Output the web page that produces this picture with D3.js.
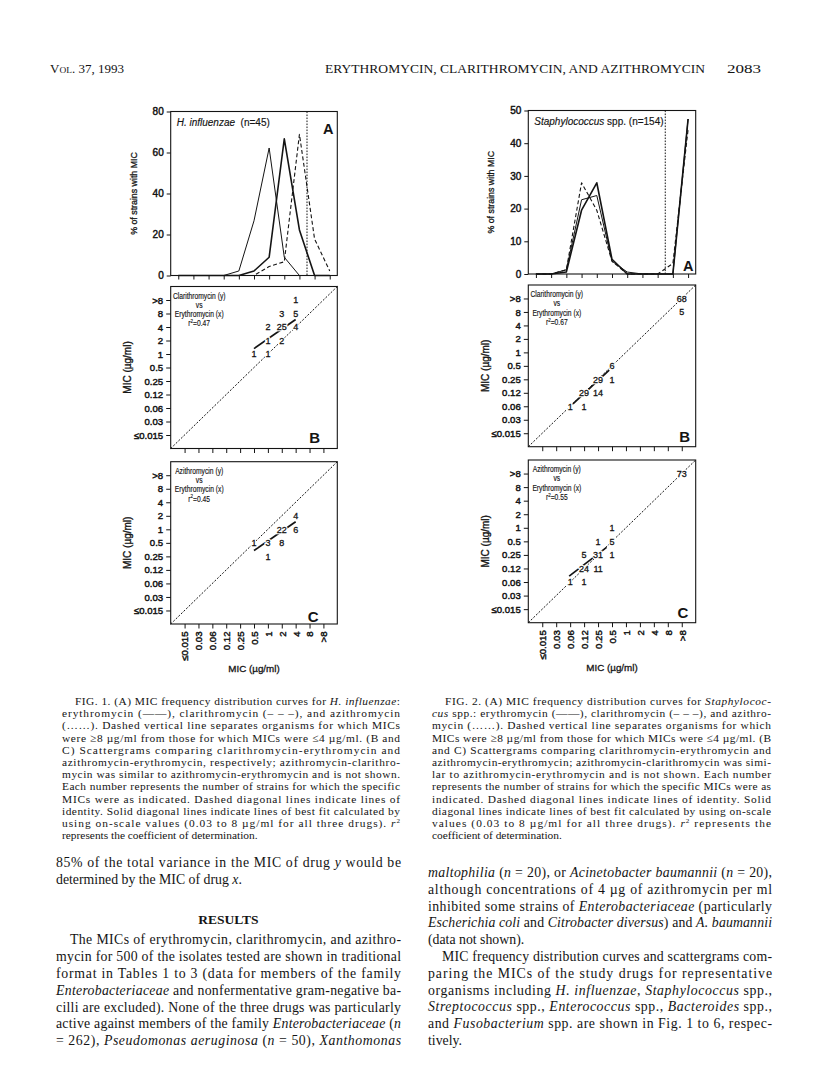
<!DOCTYPE html>
<html>
<head>
<meta charset="utf-8">
<script src="https://cdn.jsdelivr.net/npm/d3@7"></script>
<style>
  body { margin: 0; background: #fff; }
</style>
</head>
<body>
<div id="page"></div>
<script>
// MIC categories shared by every panel
var micLabels = ['≤0.015', '0.03', '0.06', '0.12', '0.25', '0.5', '1', '2', '4', '8', '>8'];

// Fig 1A, H. influenzae, % of strains at each MIC
var hinfTicks = [0, 20, 40, 60, 80];
var hinfEry = [0, 0, 0, 0, 0, 2.2, 8.9, 66.7, 22.2, 0, 0];
var hinfCla = [0, 0, 0, 0, 0, 0, 4.4, 6.7, 68.9, 17.8, 2.2];
var hinfAzi = [0, 0, 0, 0, 2.2, 26.7, 62.2, 8.9, 0, 0, 0];

// Fig 2A, Staphylococcus spp.
var staphTicks = [0, 10, 20, 30, 40, 50];
var staphEry = [0, 0, 0.6, 19.5, 27.9, 4.5, 0, 0, 0, 0, 47.4];
var staphCla = [0, 0, 1.3, 27.9, 19.5, 3.9, 0, 0, 0, 3.2, 44.2];
var staphAzi = [0, 0, 1.3, 22.7, 24.0, 3.9, 0.6, 0, 0, 0, 47.4];

// scattergrams: erythromycin MIC (x), other drug MIC (y), number of strains
var hinfClaX = ['4', '2', '4', '1', '2', '4', '1', '2', '0.5', '1'];
var hinfClaY = ['>8', '8', '8', '4', '4', '4', '2', '2', '1', '1'];
var hinfClaN = [1, 3, 5, 2, 25, 4, 1, 2, 1, 1];
var hinfClaFit = [[5, 6.4], [8, 8.56]];

var hinfAziX = ['4', '2', '4', '0.5', '1', '2', '1'];
var hinfAziY = ['2', '1', '1', '0.5', '0.5', '0.5', '0.25'];
var hinfAziN = [4, 22, 6, 1, 3, 8, 1];
var hinfAziFit = [[5, 4.43], [8, 6.56]];

var staphClaX = ['>8', '>8', '0.5', '0.25', '0.5', '0.12', '0.25', '0.06', '0.12'];
var staphClaY = ['>8', '8', '0.5', '0.25', '0.25', '0.12', '0.12', '0.06', '0.06'];
var staphClaN = [68, 5, 6, 29, 1, 29, 14, 1, 1];
var staphClaFit = [[2.2, 2.17], [4.8, 4.68]];

var staphAziX = ['>8', '0.5', '0.25', '0.5', '0.12', '0.25', '0.5', '0.12', '0.25', '0.06', '0.12'];
var staphAziY = ['>8', '1', '0.5', '0.5', '0.25', '0.25', '0.25', '0.12', '0.12', '0.06', '0.06'];
var staphAziN = [73, 1, 1, 5, 5, 31, 1, 24, 11, 1, 1];
var staphAziFit = [[1.93, 2.44], [4.61, 4.56]];

// page text
var headerLeft = 'Vol. 37, 1993';
var headerTitle = 'ERYTHROMYCIN, CLARITHROMYCIN, AND AZITHROMYCIN';
var headerPage = '2083';

var caption1 = [
  'FIG. 1. (A) MIC frequency distribution curves for <i>H. influenzae</i>:',
  'erythromycin (——), clarithromycin (– – –), and azithromycin',
  '(……). Dashed vertical line separates organisms for which MICs',
  'were ≥8 µg/ml from those for which MICs were ≤4 µg/ml. (B and',
  'C) Scattergrams comparing clarithromycin-erythromycin and',
  'azithromycin-erythromycin, respectively; azithromycin-clarithro-',
  'mycin was similar to azithromycin-erythromycin and is not shown.',
  'Each number represents the number of strains for which the specific',
  'MICs were as indicated. Dashed diagonal lines indicate lines of',
  'identity. Solid diagonal lines indicate lines of best fit calculated by',
  'using on-scale values (0.03 to 8 µg/ml for all three drugs). <i>r</i><sup>2</sup>',
  'represents the coefficient of determination.'
];
var caption2 = [
  'FIG. 2. (A) MIC frequency distribution curves for <i>Staphylococ-</i>',
  '<i>cus</i> spp.: erythromycin (——), clarithromycin (– – –), and azithro-',
  'mycin (……). Dashed vertical line separates organisms for which',
  'MICs were ≥8 µg/ml from those for which MICs were ≤4 µg/ml. (B',
  'and C) Scattergrams comparing clarithromycin-erythromycin and',
  'azithromycin-erythromycin; azithromycin-clarithromycin was simi-',
  'lar to azithromycin-erythromycin and is not shown. Each number',
  'represents the number of strains for which the specific MICs were as',
  'indicated. Dashed diagonal lines indicate lines of identity. Solid',
  'diagonal lines indicate lines of best fit calculated by using on-scale',
  'values (0.03 to 8 µg/ml for all three drugs). <i>r</i><sup>2</sup> represents the',
  'coefficient of determination.'
];
var bodyLeft1 = [
  '85% of the total variance in the MIC of drug <i>y</i> would be',
  'determined by the MIC of drug <i>x</i>.'
];
var bodyLeft2 = [
  'The MICs of erythromycin, clarithromycin, and azithro-',
  'mycin for 500 of the isolates tested are shown in traditional',
  'format in Tables 1 to 3 (data for members of the family',
  '<i>Enterobacteriaceae</i> and nonfermentative gram-negative ba-',
  'cilli are excluded). None of the three drugs was particularly',
  'active against members of the family <i>Enterobacteriaceae</i> (<i>n</i>',
  '= 262), <i>Pseudomonas aeruginosa</i> (<i>n</i> = 50), <i>Xanthomonas</i>'
];
var bodyRight1 = [
  '<i>maltophilia</i> (<i>n</i> = 20), or <i>Acinetobacter baumannii</i> (<i>n</i> = 20),',
  'although concentrations of 4 µg of azithromycin per ml',
  'inhibited some strains of <i>Enterobacteriaceae</i> (particularly',
  '<i>Escherichia coli</i> and <i>Citrobacter diversus</i>) and <i>A. baumannii</i>',
  '(data not shown).'
];
var bodyRight2 = [
  'MIC frequency distribution curves and scattergrams com-',
  'paring the MICs of the study drugs for representative',
  'organisms including <i>H. influenzae</i>, <i>Staphylococcus</i> spp.,',
  '<i>Streptococcus</i> spp., <i>Enterococcus</i> spp., <i>Bacteroides</i> spp.,',
  'and <i>Fusobacterium</i> spp. are shown in Fig. 1 to 6, respec-',
  'tively.'
];

var ink = '#141414';
var sans = "'Liberation Sans', Arial, Helvetica, sans-serif";
var serif = "'Liberation Serif', 'Times New Roman', serif";

var svg = d3.select('#page')
    .append('svg')
    .attr('width', 816)
    .attr('height', 1088)
    .style('font-family', sans);

svg.append('rect').attr('width', 816).attr('height', 1088).attr('fill', '#fff');

function richText(g, str, x, y, size, width, family) {
    var t = g.append('text')
        .attr('x', x)
        .attr('y', y)
        .attr('font-size', size)
        .attr('font-family', family || serif)
        .attr('fill', ink);
    var italic = false, sup = false;
    str.split(/(<\/?i>|<\/?sup>)/).forEach(function(p) {
        if (p === '<i>') italic = true;
        else if (p === '</i>') italic = false;
        else if (p === '<sup>') sup = true;
        else if (p === '</sup>') sup = false;
        else if (p) {
            var ts = t.append('tspan').text(p);
            if (italic) ts.attr('font-style', 'italic');
            if (sup) ts.attr('baseline-shift', 'super').attr('font-size', size * 0.62);
        }
    });
    if (width) t.attr('textLength', width).attr('lengthAdjust', 'spacing');
    return t;
}

function textBlock(lines, x0, x1, y0, step, size, indent, justifyLast) {
    lines.forEach(function(s, i) {
        var x = i === 0 ? x0 + indent : x0;
        var justify = i < lines.length - 1 || justifyLast;
        richText(svg, s, x, y0 + i * step, size, justify ? x1 - x : null);
    });
}

function styleAxis(g, size) {
    g.select('.domain').remove();
    g.selectAll('line').attr('stroke', ink).attr('stroke-width', 1);
    g.selectAll('text')
        .attr('fill', ink)
        .attr('stroke', ink)
        .attr('stroke-width', 0.45)
        .style('font-size', size + 'px')
        .style('font-family', sans);
}

// frequency distribution panel
function distPanel(o) {
    var g = svg.append('g');
    var x = d3.scalePoint().domain(d3.range(micLabels.length)).range([o.left, o.right]).padding(0.5);
    var y = d3.scaleLinear().domain([0, o.max]).range([o.bottom, o.top]);

    g.append('g')
        .attr('transform', `translate(${o.left},0)`)
        .call(d3.axisLeft(y).tickValues(o.ticks).tickSize(4).tickPadding(3))
        .call(styleAxis, 10);
    g.append('g')
        .attr('transform', `translate(0,${o.bottom})`)
        .call(d3.axisBottom(x).tickSize(4).tickFormat(''))
        .call(styleAxis, 9);

    g.append('rect')
        .attr('x', o.left).attr('y', o.top)
        .attr('width', o.right - o.left).attr('height', o.bottom - o.top)
        .attr('fill', 'none').attr('stroke', ink).attr('stroke-width', 1.1);

    var sep = (x(8) + x(9)) / 2;
    g.append('line')
        .attr('x1', sep).attr('x2', sep).attr('y1', o.top).attr('y2', o.bottom)
        .attr('stroke', ink).attr('stroke-width', 1).attr('stroke-dasharray', '1.6,1.4');

    var line = d3.line().x(function(d, i) { return x(i); }).y(function(d) { return y(d); });
    var styles = [
        { data: o.ery, w: 1.6, dash: null },
        { data: o.cla, w: 1.1, dash: '4,2.5' },
        { data: o.azi, w: 1, dash: null }
    ];
    styles.forEach(function(s) {
        g.append('path')
            .attr('d', line(s.data))
            .attr('fill', 'none')
            .attr('stroke', ink)
            .attr('stroke-width', s.w)
            .attr('stroke-linejoin', 'round')
            .attr('stroke-dasharray', s.dash);
    });

    var title = g.append('text')
        .attr('x', o.left + 6).attr('y', o.top + 14)
        .attr('font-size', 10).attr('fill', ink)
        .attr('stroke', ink).attr('stroke-width', 0.15);
    title.append('tspan').attr('font-style', 'italic').text(o.titleItalic);
    title.append('tspan').attr('xml:space', 'preserve').text(o.titleRest);

    g.append('text')
        .attr('x', o.letterX).attr('y', o.letterY)
        .attr('text-anchor', 'end')
        .attr('font-size', 14.5).attr('font-weight', 'bold').attr('fill', ink)
        .text(o.letter);

    g.append('text')
        .attr('transform', `translate(${o.left - 34},${(o.top + o.bottom) / 2}) rotate(-90)`)
        .attr('text-anchor', 'middle')
        .attr('font-size', 8.8).attr('fill', ink)
        .attr('stroke', ink).attr('stroke-width', 0.3)
        .text('% of strains with MIC');
}

// scattergram panel
function scatterPanel(o) {
    var g = svg.append('g');
    var x = d3.scaleLinear().domain([-1, micLabels.length]).range([o.left, o.right]);
    var y = d3.scaleLinear().domain([-1, micLabels.length]).range([o.bottom, o.top]);
    var idx = function(v) { return micLabels.indexOf(v); };

    g.append('g')
        .attr('transform', `translate(${o.left},0)`)
        .call(d3.axisLeft(y).tickValues(d3.range(micLabels.length))
            .tickFormat(function(i) { return micLabels[i]; }).tickSize(4.5).tickPadding(3))
        .call(styleAxis, 9.6);

    var xa = g.append('g')
        .attr('transform', `translate(0,${o.bottom})`)
        .call(d3.axisBottom(x).tickValues(d3.range(micLabels.length)).tickSize(4.5)
            .tickFormat(function(i) { return o.xLabels ? micLabels[i] : ''; }))
        .call(styleAxis, 9.6);
    if (o.xLabels) {
        xa.selectAll('text')
            .attr('text-anchor', 'end')
            .attr('transform', 'rotate(-90)')
            .attr('x', -7.5)
            .attr('y', 0)
            .attr('dy', '0.35em');
        g.append('text')
            .attr('x', (o.left + o.right) / 2).attr('y', o.bottom + 48)
            .attr('text-anchor', 'middle')
            .attr('font-size', 9.8).attr('fill', ink)
            .attr('stroke', ink).attr('stroke-width', 0.3)
            .text('MIC (µg/ml)');
    }

    g.append('rect')
        .attr('x', o.left).attr('y', o.top)
        .attr('width', o.right - o.left).attr('height', o.bottom - o.top)
        .attr('fill', 'none').attr('stroke', ink).attr('stroke-width', 1.1);

    // line of identity
    g.append('line')
        .attr('x1', x(-1)).attr('y1', y(-1))
        .attr('x2', x(micLabels.length)).attr('y2', y(micLabels.length))
        .attr('stroke', ink).attr('stroke-width', 1).attr('stroke-dasharray', '2,1.6');

    // line of best fit
    g.append('line')
        .attr('x1', x(o.fit[0][0])).attr('y1', y(o.fit[0][1]))
        .attr('x2', x(o.fit[1][0])).attr('y2', y(o.fit[1][1]))
        .attr('stroke', ink).attr('stroke-width', 1.7);

    // counts: white halo first, then the ink figure
    [true, false].forEach(function(halo) {
        g.selectAll(null)
            .data(o.n)
            .enter()
            .append('text')
            .attr('x', function(d, i) { return x(idx(o.xs[i])); })
            .attr('y', function(d, i) { return y(idx(o.ys[i])) + 3.3; })
            .attr('text-anchor', 'middle')
            .attr('font-size', 9)
            .attr('fill', halo ? '#fff' : ink)
            .attr('stroke', halo ? '#fff' : ink)
            .attr('stroke-width', halo ? 2.6 : 0.3)
            .text(function(d) { return d; });
    });

    var ann = [o.yName + ' (y)', 'vs', 'Erythromycin (x)', null];
    var cx = o.left + 28.5;
    ann.forEach(function(s, i) {
        var t = g.append('text')
            .attr('transform', `translate(${cx},${o.top + 12 + i * 9.3}) scale(0.82,1)`)
            .attr('text-anchor', 'middle')
            .attr('font-size', 8.2)
            .attr('fill', ink)
            .attr('stroke', ink).attr('stroke-width', 0.15);
        if (s) {
            t.text(s);
        } else {
            t.append('tspan').text('r');
            t.append('tspan').attr('baseline-shift', 'super').attr('font-size', 5.5).text('2');
            t.append('tspan').text('=' + o.r2);
        }
    });

    g.append('text')
        .attr('x', o.letterX).attr('y', o.letterY)
        .attr('text-anchor', 'end')
        .attr('font-size', 15).attr('font-weight', 'bold').attr('fill', ink)
        .text(o.letter);

    g.append('text')
        .attr('transform', `translate(${o.left - 39.5},${(o.top + o.bottom) / 2}) rotate(-90)`)
        .attr('text-anchor', 'middle')
        .attr('font-size', 10).attr('fill', ink)
        .attr('stroke', ink).attr('stroke-width', 0.35)
        .text('MIC (µg/ml)');
}

// Figure 1 (left)
distPanel({ left: 170.7, right: 337.3, top: 111.5, bottom: 275.5, max: 80, ticks: hinfTicks,
    ery: hinfEry, cla: hinfCla, azi: hinfAzi,
    titleItalic: 'H. influenzae', titleRest: '  (n=45)',
    letter: 'A', letterX: 333.5, letterY: 133.5 });
scatterPanel({ left: 170.7, right: 337.3, top: 286.5, bottom: 448.5,
    xs: hinfClaX, ys: hinfClaY, n: hinfClaN, fit: hinfClaFit,
    yName: 'Clarithromycin', r2: '0.47', letter: 'B', letterX: 320, letterY: 442.5, xLabels: false });
scatterPanel({ left: 170.7, right: 337.3, top: 461.7, bottom: 624,
    xs: hinfAziX, ys: hinfAziY, n: hinfAziN, fit: hinfAziFit,
    yName: 'Azithromycin', r2: '0.45', letter: 'C', letterX: 318.5, letterY: 621.7, xLabels: true });

// Figure 2 (right)
distPanel({ left: 528.3, right: 695.7, top: 110.5, bottom: 274, max: 50, ticks: staphTicks,
    ery: staphEry, cla: staphCla, azi: staphAzi,
    titleItalic: 'Staphylococcus', titleRest: ' spp. (n=154)',
    letter: 'A', letterX: 693.5, letterY: 271 });
scatterPanel({ left: 528.3, right: 695.7, top: 285, bottom: 446.7,
    xs: staphClaX, ys: staphClaY, n: staphClaN, fit: staphClaFit,
    yName: 'Clarithromycin', r2: '0.67', letter: 'B', letterX: 690, letterY: 442.3, xLabels: false });
scatterPanel({ left: 528.3, right: 695.7, top: 460, bottom: 622.7,
    xs: staphAziX, ys: staphAziY, n: staphAziN, fit: staphAziFit,
    yName: 'Azithromycin', r2: '0.55', letter: 'C', letterX: 688.3, letterY: 618.3, xLabels: true });

// running head
svg.append('text').attr('x', 50).attr('y', 73)
    .attr('font-family', serif).attr('font-size', 12.5).attr('fill', ink)
    .style('font-variant', 'small-caps')
    .attr('textLength', 74).attr('lengthAdjust', 'spacingAndGlyphs')
    .text(headerLeft);
svg.append('text').attr('x', 325).attr('y', 73)
    .attr('font-family', serif).attr('font-size', 12.5).attr('fill', ink)
    .attr('textLength', 380).attr('lengthAdjust', 'spacingAndGlyphs')
    .text(headerTitle);
svg.append('text').attr('x', 727).attr('y', 73)
    .attr('font-family', serif).attr('font-size', 12.5).attr('fill', ink)
    .attr('textLength', 34).attr('lengthAdjust', 'spacingAndGlyphs')
    .text(headerPage);

// captions
textBlock(caption1, 62, 400, 705, 12.2, 11.4, 13, false);
textBlock(caption2, 432, 771, 705, 12.2, 11.4, 13, false);

// body text
var step = 16.8;
textBlock(bodyLeft1, 56, 401, 867, step, 13.8, 0, false);
svg.append('text')
    .attr('x', 228.5).attr('y', 867 + step * 3.41)
    .attr('text-anchor', 'middle')
    .attr('font-family', serif).attr('font-size', 13.5).attr('font-weight', 'bold').attr('fill', ink)
    .text('RESULTS');
textBlock(bodyLeft2, 56, 401, 867 + step * 4.61, step, 13.8, 14, true);
textBlock(bodyRight1, 428, 772, 867 + step * 0.6, step, 13.8, 0, false);
textBlock(bodyRight2, 428, 772, 867 + step * 5.6, step, 13.8, 14, false);
</script>
</body>
</html>
